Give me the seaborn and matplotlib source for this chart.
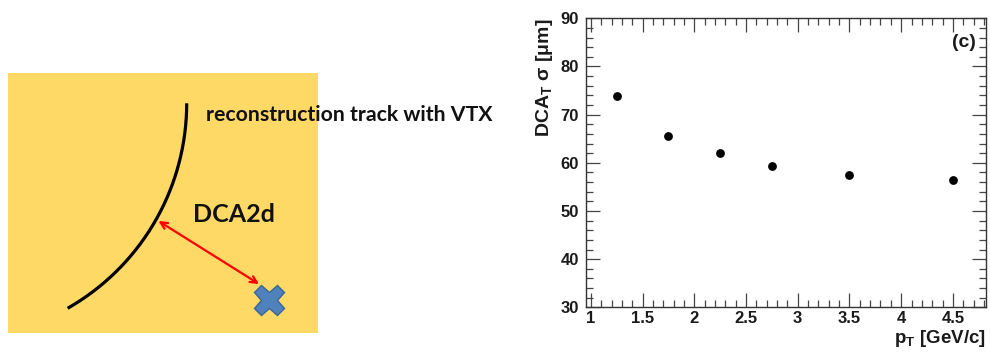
import numpy as np
import pandas as pd
import matplotlib
matplotlib.use("Agg")
import matplotlib.pyplot as plt
from matplotlib.ticker import MultipleLocator
from matplotlib.patches import Rectangle
import seaborn as sns

# ---- data (right panel) ----
pt = [1.25, 1.75, 2.25, 2.75, 3.5, 4.5]
dca_sigma = [73.9, 65.5, 62.0, 59.3, 57.5, 56.4]
x_ticks = [1, 1.5, 2, 2.5, 3, 3.5, 4, 4.5]
y_ticks = [30, 40, 50, 60, 70, 80, 90]

# ---- schematic (left panel) text ----
track_label = "reconstruction track with VTX"
dca_label = "DCA2d"

sns.set_style("ticks")
plt.rcParams['font.family'] = ['Liberation Sans', 'DejaVu Sans']
plt.rcParams['mathtext.fontset'] = 'custom'
plt.rcParams['mathtext.rm'] = 'Liberation Sans'
plt.rcParams['mathtext.bf'] = 'Liberation Sans:bold'
plt.rcParams['mathtext.it'] = 'Liberation Sans:italic'

fig = plt.figure(figsize=(9.9, 3.54), dpi=100)

# ---------- left schematic in pixel coordinates ----------
bg = fig.add_axes([0, 0, 1, 1], zorder=0)
bg.set_xlim(0, 990)
bg.set_ylim(354, 0)
bg.axis('off')

box_x0, box_y0, box_w, box_h = 8, 73, 310, 260
bg.add_patch(Rectangle((box_x0, box_y0), box_w, box_h, facecolor='#FFD966',
                       edgecolor='none'))

# track: circular arc
R = 236.0
cx, cy = 186.7 - R, 103.3
t_end = np.arcsin((308.3 - cy) / R)
t = np.linspace(0, t_end, 200)
bg.plot(cx + R * np.cos(t), cy + R * np.sin(t), color='black', lw=2.3,
        solid_capstyle='butt')

# DCA arrow
bg.annotate('', xy=(158.5, 221), xytext=(259, 284),
            arrowprops=dict(arrowstyle='<->', color='#FF0000', lw=1.6,
                            mutation_scale=12, shrinkA=0, shrinkB=0))
# vertex cross
bg.plot([269], [300], marker='X', markersize=22, color='#4F81BD',
        markeredgecolor='#3A6597', markeredgewidth=1.0)

bg.text(206, 115, track_label, fontsize=15.3, fontweight='bold',
        family=['Lato', 'DejaVu Sans'], ha='left', va='center', color='#111111')
bg.text(193, 214, dca_label, fontsize=18, fontweight='bold',
        family=['Lato', 'DejaVu Sans'], ha='left', va='center', color='#111111')

# ---------- right panel ----------
ax = fig.add_axes([585.7 / 990, 1 - 307.3 / 354, (986 - 585.7) / 990,
                   (307.3 - 18.3) / 354], zorder=2)
df = pd.DataFrame({'pt': pt, 'sigma': dca_sigma})
sns.scatterplot(data=df, x='pt', y='sigma', ax=ax, color='black', s=40,
                edgecolor='black', linewidth=0, zorder=3)
ax.set_xlim(0.95, 4.82)
ax.set_ylim(30, 90)
ax.set_xticks(x_ticks)
ax.set_xticklabels([f"{v:g}" for v in x_ticks])
ax.set_yticks(y_ticks)
ax.set_yticklabels([f"{v:g}" for v in y_ticks])
ax.xaxis.set_minor_locator(MultipleLocator(0.1))
ax.yaxis.set_minor_locator(MultipleLocator(2))
ax.tick_params(which='both', direction='in', top=True, right=True,
               color='#444444', width=0.9)
ax.tick_params(which='major', length=10, labelsize=12, pad=3)
ax.tick_params(which='minor', length=5)
ax.tick_params(axis='y', which='major', pad=5)
for lab in ax.get_xticklabels() + ax.get_yticklabels():
    lab.set_fontweight('bold')
    lab.set_color('#1a1a1a')
for sp in ax.spines.values():
    sp.set_visible(True)
    sp.set_color('#333333')
    sp.set_linewidth(1.0)

ax.set_xlabel(r'p$_{\mathbf{T}}$ [GeV/c]', loc='right', fontsize=13.5,
              fontweight='bold', labelpad=1, color='#1a1a1a')
ax.set_ylabel(r'DCA$_{\mathbf{T}}$ σ [μm]', loc='top', fontsize=14,
              fontweight='bold', labelpad=4, color='#1a1a1a')
ax.text(0.975, 0.915, '(c)', transform=ax.transAxes, ha='right', va='center',
        fontsize=14, fontweight='bold', color='#1a1a1a')

fig.savefig('out.png', dpi=100)
